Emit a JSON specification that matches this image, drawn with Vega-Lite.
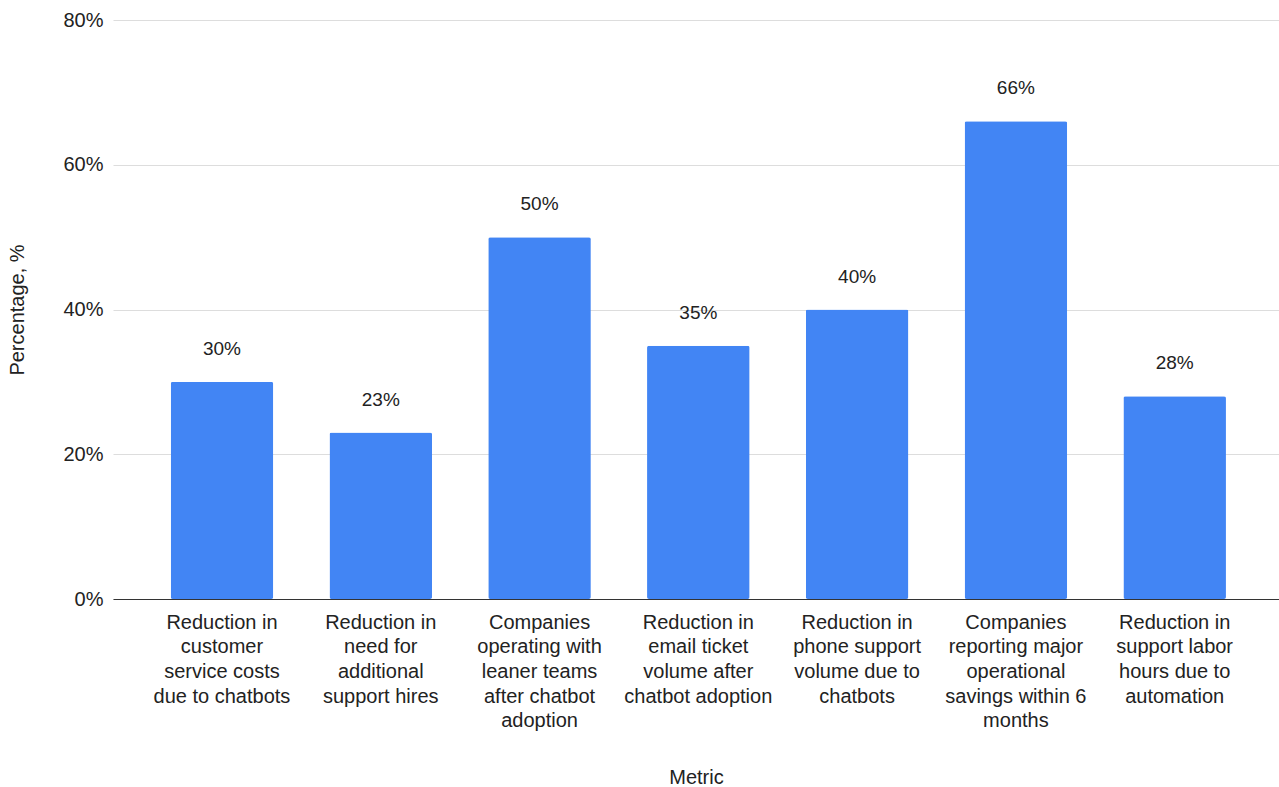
{
  "$schema": "https://vega.github.io/schema/vega-lite/v6.json",
  "autosize": {"type": "none"},
  "padding": {"left": 113, "top": 20, "right": 0, "bottom": 188},
  "width": 1166,
  "height": 579,
  "background": "#ffffff",
  "config": {
    "font": "Liberation Sans",
    "view": {"stroke": null}
  },
  "data": {
    "values": [
      {"metric": "Reduction in|customer|service costs|due to chatbots", "share": 0.30},
      {"metric": "Reduction in|need for|additional|support hires", "share": 0.23},
      {"metric": "Companies|operating with|leaner teams|after chatbot|adoption", "share": 0.50},
      {"metric": "Reduction in|email ticket|volume after|chatbot adoption", "share": 0.35},
      {"metric": "Reduction in|phone support|volume due to|chatbots", "share": 0.40},
      {"metric": "Companies|reporting major|operational|savings within 6|months", "share": 0.66},
      {"metric": "Reduction in|support labor|hours due to|automation", "share": 0.28}
    ]
  },
  "encoding": {
    "x": {
      "field": "metric",
      "type": "nominal",
      "sort": null,
      "scale": {"paddingInner": 0.354, "paddingOuter": 0.3487, "align": 0.521},
      "axis": {
        "title": "Metric",
        "titleFontSize": 20,
        "titleFontWeight": "normal",
        "titleColor": "#222222",
        "titlePadding": 37,
        "labelExpr": "split(datum.label, '|')",
        "labelAngle": 0,
        "labelFontSize": 20,
        "labelColor": "#222222",
        "labelLineHeight": 24.7,
        "labelPadding": 13,
        "labelBaseline": "top",
        "labelLimit": 0,
        "ticks": false,
        "domainColor": "#333333",
        "domainWidth": 1,
        "grid": false
      }
    },
    "y": {
      "field": "share",
      "type": "quantitative",
      "scale": {"domain": [0, 0.8]},
      "axis": {
        "title": "Percentage, %",
        "titleFontSize": 20,
        "titleFontWeight": "normal",
        "titleColor": "#222222",
        "titlePadding": 35,
        "values": [0, 0.2, 0.4, 0.6, 0.8],
        "format": ".0%",
        "labelFontSize": 20,
        "labelColor": "#222222",
        "labelPadding": 10,
        "ticks": false,
        "domain": false,
        "gridColor": "#dddddd",
        "gridWidth": 1
      }
    }
  },
  "layer": [
    {
      "mark": {"type": "bar", "color": "#4285F4", "cornerRadius": 2}
    },
    {
      "mark": {"type": "text", "fontSize": 19, "color": "#222222", "dy": -33, "baseline": "middle"},
      "encoding": {
        "text": {"field": "share", "type": "quantitative", "format": ".0%"}
      }
    }
  ]
}
